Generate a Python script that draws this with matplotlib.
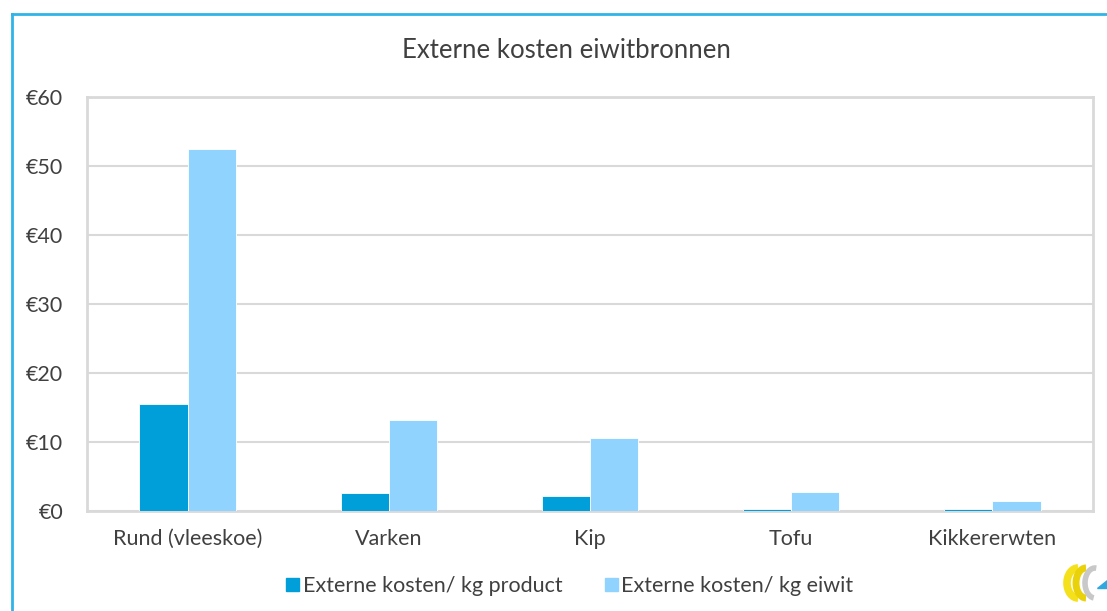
import matplotlib
matplotlib.use("Agg")
import matplotlib.pyplot as plt
import numpy as np
from matplotlib.patches import Rectangle, Arc, Polygon
from matplotlib.lines import Line2D

categories = ["Rund (vleeskoe)", "Varken", "Kip", "Tofu", "Kikkererwten"]
kosten_product = [15.5, 2.6, 2.2, 0.3, 0.25]
kosten_eiwit = [52.5, 13.2, 10.6, 2.8, 1.4]
series_names = ["Externe kosten/ kg product", "Externe kosten/ kg eiwit"]
yticks = [0, 10, 20, 30, 40, 50, 60]

c_prod = "#009FDA"
c_eiw = "#8FD3FE"
grid_c = "#D9D9D9"
text_c = "#404040"

plt.rcParams['font.family'] = ['Lato', 'DejaVu Sans']

fig = plt.figure(figsize=(11.07, 6.11), dpi=100)
W, H = 1107, 611

# outer frame (blue left/top)
fig.add_artist(Line2D([12/W, 12/W], [0, 1 - 14/H], color="#2FB3E8", lw=2, transform=fig.transFigure))
fig.add_artist(Line2D([12/W, 1], [1 - 14/H, 1 - 14/H], color="#2FB3E8", lw=2, transform=fig.transFigure))

ax = fig.add_axes([87/W, 1 - 511/H, 1006/W, 414/H])
x = np.arange(len(categories))
bw = 0.24
ax.bar(x - bw/2, kosten_product, width=bw, color=c_prod, edgecolor="white", linewidth=0.6,
       label=series_names[0], zorder=3)
ax.bar(x + bw/2, kosten_eiwit, width=bw, color=c_eiw, edgecolor="white", linewidth=0.6,
       label=series_names[1], zorder=3)

ax.set_xlim(-0.5, len(categories) - 0.5)
ax.set_ylim(0, 60)
ax.set_yticks(yticks)
ax.set_yticklabels([f"€{v}" for v in yticks])
ax.set_xticks(x)
ax.set_xticklabels(categories)
ax.grid(axis="y", color=grid_c, lw=1.5, zorder=0)
for s in ax.spines.values():
    s.set_color(grid_c)
    s.set_linewidth(2)
ax.tick_params(axis="both", length=0, colors=text_c)
ax.tick_params(axis="y", pad=17, labelsize=15.5)
ax.tick_params(axis="x", pad=13, labelsize=15.5)

fig.text(566/W, 1 - 51/H, "Externe kosten eiwitbronnen", ha="center", va="center",
         fontsize=18.5, color=text_c)

handles = [Rectangle((0, 0), 1, 1, color=c_prod), Rectangle((0, 0), 1, 1, color=c_eiw)]
fig.legend(handles, series_names, loc="center", bbox_to_anchor=(570/W, 1 - 586/H),
           ncol=2, frameon=False, fontsize=15.5, handlelength=0.6, handleheight=0.6,
           handletextpad=0.15, columnspacing=2.0, labelcolor=text_c)

# small logo approximation (pixel coordinates)
lax = fig.add_axes([1060/W, 1 - 608/H, 47/W, 46/H])
lax.set_xlim(1060, 1107); lax.set_ylim(608, 562); lax.axis("off")
lax.add_patch(Arc((1078, 583), 22, 30, theta1=90, theta2=270, lw=5.5, color="#F5E11B"))
lax.add_patch(Arc((1086, 583), 20, 30, theta1=90, theta2=270, lw=5, color="#EAD20A"))
lax.add_patch(Arc((1095, 583), 20, 30, theta1=95, theta2=275, lw=4, color="#C8C8C8"))
lax.add_patch(Polygon([[1097, 588], [1107, 588], [1107, 580]], color="#2FA8E0"))

fig.savefig("out.png", dpi=100)
